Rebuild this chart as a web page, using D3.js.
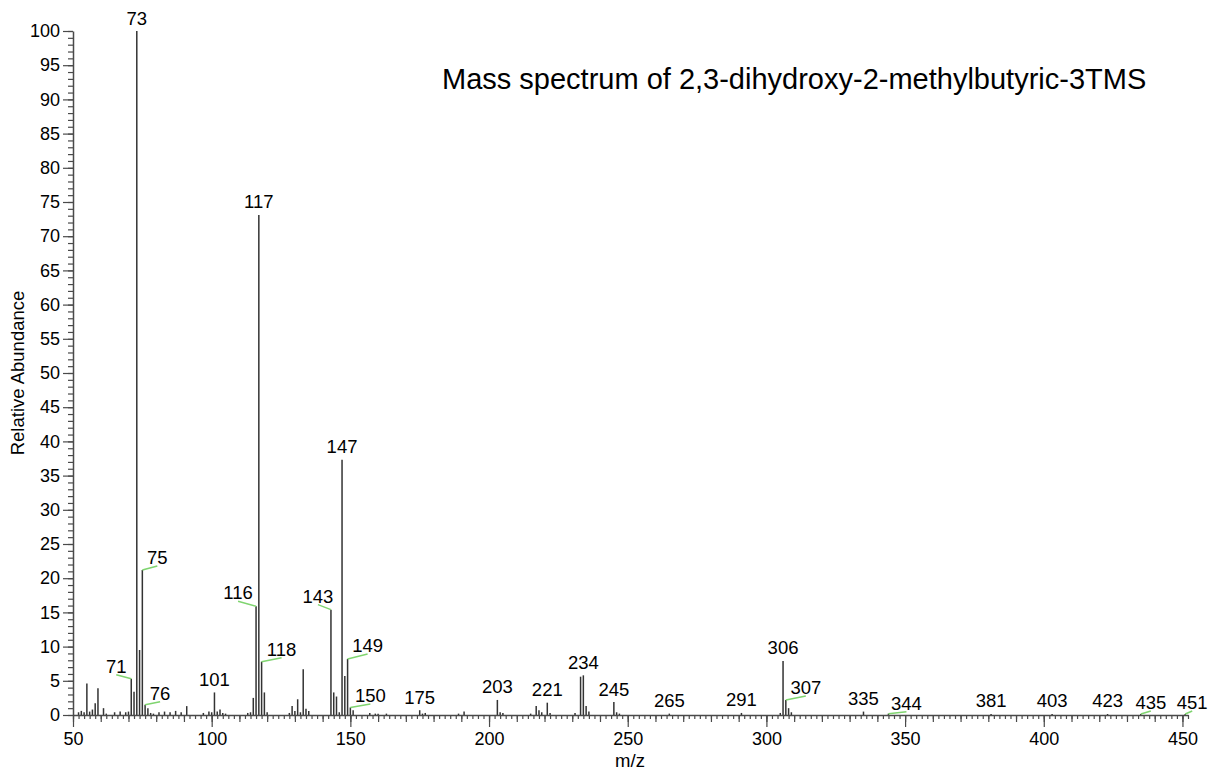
<!DOCTYPE html>
<html>
<head>
<meta charset="utf-8">
<script src="https://cdn.jsdelivr.net/npm/d3@7/dist/d3.min.js"></script>
<style>
  html, body { margin: 0; padding: 0; background: #fff; }
  svg { display: block; font-family: "Liberation Sans", Arial, sans-serif; }
</style>
</head>
<body>
<svg id="chart" width="1217" height="771"></svg>
<script>
// m/z values of the fragment ions
const mz = [52, 53, 54, 55, 56, 57, 58, 59, 61, 62, 65, 67, 69, 70, 71, 72, 73, 74, 75, 76, 77, 78, 79,
  81, 83, 85, 87, 89, 91, 97, 99, 100, 101, 102, 103, 104, 105, 113, 114, 115, 116, 117, 118, 119, 120,
  128, 129, 130, 131, 132, 133, 134, 135, 143, 144, 145, 146, 147, 148, 149, 150, 151, 157, 159, 160, 163,
  175, 176, 177, 189, 191, 203, 204, 205, 215, 217, 218, 219, 221, 222, 231, 233, 234, 235, 236, 245, 246, 247,
  265, 291, 305, 306, 307, 308, 309, 335, 344, 381, 403, 423, 435, 451];

// relative abundance (%) for each m/z above
const abundance = [0.4, 0.6, 0.4, 4.6, 0.5, 0.8, 1.7, 3.9, 1.0, 0.2, 0.4, 0.5, 0.4, 0.5, 5.3, 3.4, 100, 9.5, 21.2, 1.5, 1.0, 0.3, 0.2,
  0.4, 0.5, 0.4, 0.6, 0.4, 1.3, 0.3, 0.5, 0.4, 3.3, 0.5, 0.8, 0.3, 0.2, 0.3, 0.4, 2.5, 15.9, 73.1, 7.8, 3.3, 0.4,
  0.3, 1.3, 0.6, 2.3, 0.4, 6.7, 0.9, 0.6, 15.4, 3.3, 2.7, 0.4, 37.3, 5.7, 8.2, 1.1, 0.7, 0.3, 0.2, 0.2, 0.2,
  0.7, 0.2, 0.3, 0.2, 0.5, 2.2, 0.4, 0.3, 0.2, 1.3, 0.7, 0.4, 1.8, 0.3, 0.3, 5.6, 5.8, 1.3, 0.5, 1.9, 0.4, 0.2,
  0.2, 0.3, 0.3, 7.9, 2.2, 1.0, 0.4, 0.5, 0.2, 0.15, 0.15, 0.15, 0.15, 0.15];

// peaks that carry an m/z annotation
const labelledPeaks = [71, 73, 75, 76, 101, 116, 117, 118, 143, 147, 149, 150, 175, 203, 221, 234, 245,
  265, 291, 306, 307, 335, 344, 381, 403, 423, 435, 451];

// axis tick values
const xMajorTicks = [50, 100, 150, 200, 250, 300, 350, 400, 450];
const yMajorTicks = [0, 5, 10, 15, 20, 25, 30, 35, 40, 45, 50, 55, 60, 65, 70, 75, 80, 85, 90, 95, 100];

const titleText = "Mass spectrum of 2,3-dihydroxy-2-methylbutyric-3TMS";
const xTitle = "m/z";
const yTitle = "Relative Abundance";

// ---- layout ----
const svg = d3.select("#chart");
const x = d3.scaleLinear().domain([50, 452]).range([73, 1188]);
const y = d3.scaleLinear().domain([0, 100]).range([715, 31]);

// labels that are pushed aside and joined to their peak by a leader line
// (pixel offsets of the label baseline from the peak tip)
const calloutShift = {
  71: [-15, -6], 75: [15, -6], 76: [15, -5], 116: [-18, -7], 118: [20, -6], 143: [-13, -7],
  149: [20, -7], 150: [20, -5.5], 307: [20, -6], 344: [18, -4], 435: [10, -5], 451: [7, -5]
};

const axisColor = "#4a4a4a";
const fontSize = 18;

// ---- peaks ----
const peaks = mz.map((m, i) => ({ m, v: abundance[i] }));
svg.append("g")
  .selectAll("line")
  .data(peaks)
  .join("line")
  .attr("x1", d => x(d.m)).attr("x2", d => x(d.m))
  .attr("y1", y(0)).attr("y2", d => y(d.v))
  .attr("stroke", "#333")
  .attr("stroke-width", 1.5);

// ---- axes ----
function styleAxis(g) {
  g.select(".domain").attr("stroke", axisColor).attr("stroke-width", 1.5);
  g.selectAll(".tick line").attr("stroke", axisColor).attr("stroke-width", 1.2);
  g.selectAll(".tick text").attr("fill", "#000").style("font-size", fontSize + "px")
    .style("font-family", '"Liberation Sans", Arial, sans-serif');
}

const xMinor = d3.range(50, 453, 2);
const xMid = d3.range(50, 453, 10);
svg.append("g").attr("transform", `translate(0,${y(0)})`)
  .call(d3.axisBottom(x).tickValues(xMinor).tickSize(4).tickFormat("").tickSizeOuter(0))
  .call(styleAxis);
svg.append("g").attr("transform", `translate(0,${y(0)})`)
  .call(d3.axisBottom(x).tickValues(xMid).tickSize(7).tickFormat("").tickSizeOuter(0))
  .call(g => g.select(".domain").remove())
  .call(styleAxis);
svg.append("g").attr("transform", `translate(0,${y(0)})`)
  .call(d3.axisBottom(x).tickValues(xMajorTicks).tickSize(12).tickPadding(5).tickFormat(d3.format("d")).tickSizeOuter(0))
  .call(g => g.select(".domain").remove())
  .call(styleAxis);

const yMinor = d3.range(0, 101, 1);
svg.append("g").attr("transform", `translate(${x(50)},0)`)
  .call(d3.axisLeft(y).tickValues(yMinor).tickSize(5).tickFormat("").tickSizeOuter(0))
  .call(styleAxis);
svg.append("g").attr("transform", `translate(${x(50)},0)`)
  .call(d3.axisLeft(y).tickValues(yMajorTicks).tickSize(10).tickPadding(3).tickFormat(d3.format("d")).tickSizeOuter(0))
  .call(g => g.select(".domain").remove())
  .call(styleAxis);

// ---- peak annotations ----
const ann = svg.append("g").style("font-size", "18.5px");
labelledPeaks.forEach(m => {
  const v = abundance[mz.indexOf(m)];
  const px = x(m), py = y(v);
  const shift = calloutShift[m];
  const lx = shift ? px + shift[0] : px;
  const ly = shift ? py + shift[1] : py - 6.5;
  if (shift) {
    ann.append("line")
      .attr("x1", lx).attr("y1", ly + 2)
      .attr("x2", px).attr("y2", py)
      .attr("stroke", "#7fd46f").attr("stroke-width", 1.5);
  }
  ann.append("text")
    .attr("x", lx).attr("y", ly)
    .attr("text-anchor", "middle")
    .attr("fill", "#000")
    .text(m);
});

// ---- titles ----
svg.append("text")
  .attr("x", 442).attr("y", 89)
  .style("font-size", "29px")
  .attr("fill", "#000")
  .text(titleText);

svg.append("text")
  .attr("x", 630).attr("y", 767)
  .attr("text-anchor", "middle")
  .style("font-size", "18.5px")
  .attr("fill", "#000")
  .text(xTitle);

svg.append("text")
  .attr("transform", "translate(24,373) rotate(-90)")
  .attr("text-anchor", "middle")
  .style("font-size", "18.5px")
  .attr("fill", "#000")
  .text(yTitle);
</script>
</body>
</html>
